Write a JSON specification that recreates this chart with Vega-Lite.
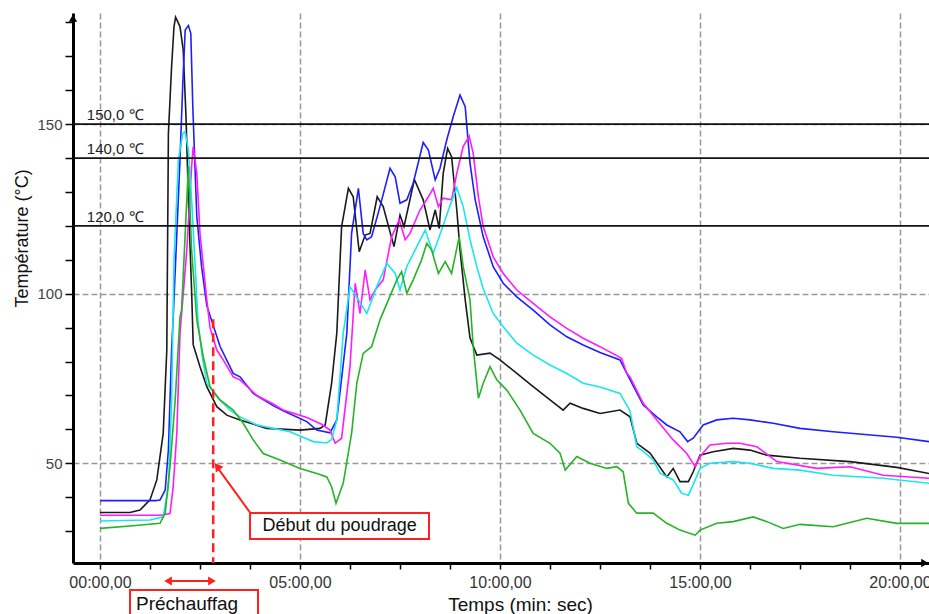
{
  "$schema": "https://vega.github.io/schema/vega-lite/v6.json",
  "width": 856,
  "height": 550,
  "autosize": {"type": "none"},
  "padding": {"left": 73, "top": 13, "right": 0, "bottom": 51},
  "background": "white",
  "config": {"view": {"stroke": null}, "font": "Liberation Sans"},
  "datasets": {
    "curves": [
      {"s":"k","t":0,"v":35.5},{"s":"k","t":0.75,"v":35.5},{"s":"k","t":1.0,"v":36.2},{"s":"k","t":1.25,"v":39.2},{"s":"k","t":1.42,"v":45.1},{"s":"k","t":1.58,"v":58.8},{"s":"k","t":1.67,"v":83.4},{"s":"k","t":1.71,"v":147.3},{"s":"k","t":1.79,"v":167},{"s":"k","t":1.85,"v":178.8},{"s":"k","t":1.89,"v":181.6},{"s":"k","t":2.0,"v":178.8},{"s":"k","t":2.08,"v":171.9},{"s":"k","t":2.15,"v":152.2},{"s":"k","t":2.21,"v":127.7},{"s":"k","t":2.29,"v":101},{"s":"k","t":2.33,"v":85},{"s":"k","t":2.5,"v":78.5},{"s":"k","t":2.67,"v":72.6},{"s":"k","t":2.92,"v":66.7},{"s":"k","t":3.17,"v":64.2},{"s":"k","t":3.5,"v":62.8},{"s":"k","t":4.17,"v":60.3},{"s":"k","t":5.0,"v":59.8},{"s":"k","t":5.5,"v":60.3},{"s":"k","t":5.63,"v":61.3},{"s":"k","t":5.79,"v":73.6},{"s":"k","t":5.92,"v":88.4},{"s":"k","t":6.04,"v":119.8},{"s":"k","t":6.21,"v":131.1},{"s":"k","t":6.33,"v":128.6},{"s":"k","t":6.48,"v":112.4},{"s":"k","t":6.63,"v":117.3},{"s":"k","t":6.75,"v":117.8},{"s":"k","t":6.93,"v":128.6},{"s":"k","t":7.08,"v":125.7},{"s":"k","t":7.35,"v":113.9},{"s":"k","t":7.5,"v":123.2},{"s":"k","t":7.6,"v":119.8},{"s":"k","t":7.86,"v":133.7},{"s":"k","t":8.08,"v":127.7},{"s":"k","t":8.25,"v":118.8},{"s":"k","t":8.38,"v":124.7},{"s":"k","t":8.48,"v":119.3},{"s":"k","t":8.58,"v":135.5},{"s":"k","t":8.69,"v":142.9},{"s":"k","t":8.79,"v":140.4},{"s":"k","t":8.92,"v":124.7},{"s":"k","t":9.0,"v":113},{"s":"k","t":9.13,"v":98.2},{"s":"k","t":9.25,"v":87},{"s":"k","t":9.42,"v":81.9},{"s":"k","t":9.75,"v":82.5},{"s":"k","t":10.0,"v":80.5},{"s":"k","t":10.42,"v":76.5},{"s":"k","t":10.83,"v":72.6},{"s":"k","t":11.25,"v":68.7},{"s":"k","t":11.58,"v":65.7},{"s":"k","t":11.75,"v":67.7},{"s":"k","t":12.08,"v":66.2},{"s":"k","t":12.5,"v":64.7},{"s":"k","t":13.0,"v":65.7},{"s":"k","t":13.25,"v":63.7},{"s":"k","t":13.42,"v":55.9},{"s":"k","t":13.75,"v":53},{"s":"k","t":13.96,"v":49.5},{"s":"k","t":14.17,"v":46},{"s":"k","t":14.33,"v":48.5},{"s":"k","t":14.5,"v":44.6},{"s":"k","t":14.71,"v":44.6},{"s":"k","t":14.83,"v":47.5},{"s":"k","t":15.0,"v":52.4},{"s":"k","t":15.33,"v":53.4},{"s":"k","t":15.83,"v":54.4},{"s":"k","t":16.25,"v":53.9},{"s":"k","t":16.67,"v":52.4},{"s":"k","t":17.5,"v":51.5},{"s":"k","t":18.75,"v":50.5},{"s":"k","t":19.92,"v":48.8},{"s":"k","t":20.73,"v":47},
      {"s":"b","t":0,"v":39.0},{"s":"b","t":1.38,"v":39.0},{"s":"b","t":1.5,"v":39.2},{"s":"b","t":1.63,"v":42.1},{"s":"b","t":1.71,"v":53.9},{"s":"b","t":1.79,"v":83.4},{"s":"b","t":1.83,"v":93},{"s":"b","t":2.0,"v":139.5},{"s":"b","t":2.07,"v":162.1},{"s":"b","t":2.13,"v":177.8},{"s":"b","t":2.21,"v":179.1},{"s":"b","t":2.27,"v":176.8},{"s":"b","t":2.32,"v":155.2},{"s":"b","t":2.42,"v":122.7},{"s":"b","t":2.54,"v":108},{"s":"b","t":2.67,"v":96.5},{"s":"b","t":3.0,"v":84.5},{"s":"b","t":3.33,"v":76.5},{"s":"b","t":3.5,"v":75.5},{"s":"b","t":3.83,"v":70.6},{"s":"b","t":4.33,"v":67},{"s":"b","t":4.58,"v":65.5},{"s":"b","t":5.17,"v":62.3},{"s":"b","t":5.42,"v":59.8},{"s":"b","t":5.75,"v":59},{"s":"b","t":5.92,"v":62.8},{"s":"b","t":6.17,"v":88.3},{"s":"b","t":6.29,"v":117.8},{"s":"b","t":6.46,"v":131.1},{"s":"b","t":6.58,"v":117.8},{"s":"b","t":6.67,"v":115.9},{"s":"b","t":6.79,"v":116.8},{"s":"b","t":7.0,"v":125.7},{"s":"b","t":7.25,"v":137},{"s":"b","t":7.38,"v":134.5},{"s":"b","t":7.5,"v":126.7},{"s":"b","t":7.67,"v":127.7},{"s":"b","t":7.83,"v":132.6},{"s":"b","t":8.08,"v":144.6},{"s":"b","t":8.21,"v":142.4},{"s":"b","t":8.38,"v":133.6},{"s":"b","t":8.5,"v":137},{"s":"b","t":8.67,"v":145.4},{"s":"b","t":8.83,"v":152.2},{"s":"b","t":9.0,"v":158.6},{"s":"b","t":9.13,"v":155.2},{"s":"b","t":9.25,"v":138.5},{"s":"b","t":9.38,"v":127.7},{"s":"b","t":9.58,"v":116.8},{"s":"b","t":9.83,"v":108},{"s":"b","t":10.08,"v":103.1},{"s":"b","t":10.42,"v":99.1},{"s":"b","t":10.83,"v":95.2},{"s":"b","t":11.25,"v":90.8},{"s":"b","t":11.67,"v":87.3},{"s":"b","t":12.08,"v":84.9},{"s":"b","t":12.5,"v":82.7},{"s":"b","t":13.0,"v":80.5},{"s":"b","t":13.17,"v":76.5},{"s":"b","t":13.58,"v":67.2},{"s":"b","t":13.92,"v":63.7},{"s":"b","t":14.17,"v":61.3},{"s":"b","t":14.5,"v":59.3},{"s":"b","t":14.69,"v":56.4},{"s":"b","t":14.83,"v":57.4},{"s":"b","t":15.08,"v":61.3},{"s":"b","t":15.42,"v":62.8},{"s":"b","t":15.83,"v":63.3},{"s":"b","t":16.25,"v":62.8},{"s":"b","t":16.83,"v":61.8},{"s":"b","t":17.5,"v":60.3},{"s":"b","t":18.33,"v":59.3},{"s":"b","t":19.92,"v":57.7},{"s":"b","t":20.73,"v":56.4},
      {"s":"m","t":0,"v":34.7},{"s":"m","t":1.5,"v":34.7},{"s":"m","t":1.75,"v":35.2},{"s":"m","t":1.83,"v":43.1},{"s":"m","t":1.92,"v":58.8},{"s":"m","t":2.0,"v":88.3},{"s":"m","t":2.17,"v":112.9},{"s":"m","t":2.29,"v":137.5},{"s":"m","t":2.33,"v":143.4},{"s":"m","t":2.42,"v":135.5},{"s":"m","t":2.5,"v":117.8},{"s":"m","t":2.67,"v":98.2},{"s":"m","t":2.75,"v":90},{"s":"m","t":2.92,"v":83.4},{"s":"m","t":3.08,"v":80.5},{"s":"m","t":3.33,"v":75.5},{"s":"m","t":3.5,"v":74.6},{"s":"m","t":3.92,"v":70},{"s":"m","t":4.33,"v":67.5},{"s":"m","t":4.58,"v":65.7},{"s":"m","t":5.17,"v":63.5},{"s":"m","t":5.54,"v":61.5},{"s":"m","t":5.75,"v":59.8},{"s":"m","t":5.88,"v":55.9},{"s":"m","t":6.04,"v":57.4},{"s":"m","t":6.25,"v":78.5},{"s":"m","t":6.38,"v":103.1},{"s":"m","t":6.5,"v":94.2},{"s":"m","t":6.63,"v":107},{"s":"m","t":6.75,"v":98.2},{"s":"m","t":6.88,"v":101.1},{"s":"m","t":7.08,"v":104.1},{"s":"m","t":7.29,"v":116.8},{"s":"m","t":7.48,"v":121.8},{"s":"m","t":7.63,"v":115.9},{"s":"m","t":7.75,"v":117.8},{"s":"m","t":8.0,"v":124.7},{"s":"m","t":8.21,"v":128.6},{"s":"m","t":8.33,"v":131.1},{"s":"m","t":8.46,"v":125.7},{"s":"m","t":8.58,"v":128.2},{"s":"m","t":8.79,"v":127.7},{"s":"m","t":8.92,"v":135.5},{"s":"m","t":9.08,"v":143.4},{"s":"m","t":9.23,"v":146.5},{"s":"m","t":9.33,"v":141.4},{"s":"m","t":9.46,"v":128.6},{"s":"m","t":9.58,"v":119.8},{"s":"m","t":9.83,"v":110.9},{"s":"m","t":10.08,"v":106},{"s":"m","t":10.42,"v":101.1},{"s":"m","t":10.83,"v":97.2},{"s":"m","t":11.25,"v":93.2},{"s":"m","t":11.67,"v":89.8},{"s":"m","t":12.08,"v":86.9},{"s":"m","t":12.5,"v":84.4},{"s":"m","t":13.04,"v":81},{"s":"m","t":13.17,"v":76.5},{"s":"m","t":13.25,"v":75.5},{"s":"m","t":13.58,"v":67.7},{"s":"m","t":13.92,"v":62.8},{"s":"m","t":14.33,"v":56.9},{"s":"m","t":14.67,"v":52.9},{"s":"m","t":14.88,"v":49},{"s":"m","t":15.0,"v":52},{"s":"m","t":15.25,"v":55.4},{"s":"m","t":15.67,"v":55.9},{"s":"m","t":16.0,"v":55.9},{"s":"m","t":16.42,"v":54.9},{"s":"m","t":16.92,"v":50.5},{"s":"m","t":17.92,"v":48.5},{"s":"m","t":18.75,"v":49},{"s":"m","t":19.58,"v":46.5},{"s":"m","t":20.73,"v":45.6},
      {"s":"c","t":0,"v":33.0},{"s":"c","t":1.25,"v":33.3},{"s":"c","t":1.58,"v":34.2},{"s":"c","t":1.71,"v":43.1},{"s":"c","t":1.79,"v":68},{"s":"c","t":1.85,"v":110},{"s":"c","t":1.96,"v":139.5},{"s":"c","t":2.07,"v":147.3},{"s":"c","t":2.13,"v":147.8},{"s":"c","t":2.21,"v":142.4},{"s":"c","t":2.29,"v":127.7},{"s":"c","t":2.38,"v":108},{"s":"c","t":2.45,"v":92},{"s":"c","t":2.55,"v":82},{"s":"c","t":2.67,"v":73.6},{"s":"c","t":2.92,"v":69.6},{"s":"c","t":3.25,"v":65.7},{"s":"c","t":3.5,"v":63.7},{"s":"c","t":3.92,"v":61.3},{"s":"c","t":4.33,"v":60.3},{"s":"c","t":4.75,"v":59.3},{"s":"c","t":5.33,"v":56.4},{"s":"c","t":5.67,"v":56},{"s":"c","t":5.79,"v":57},{"s":"c","t":5.92,"v":62.8},{"s":"c","t":6.08,"v":88.3},{"s":"c","t":6.25,"v":102.1},{"s":"c","t":6.46,"v":98.2},{"s":"c","t":6.67,"v":94.2},{"s":"c","t":6.92,"v":102.1},{"s":"c","t":7.17,"v":109},{"s":"c","t":7.38,"v":106},{"s":"c","t":7.5,"v":101.1},{"s":"c","t":7.67,"v":108},{"s":"c","t":7.92,"v":113.9},{"s":"c","t":8.13,"v":118.8},{"s":"c","t":8.33,"v":111.9},{"s":"c","t":8.54,"v":118.8},{"s":"c","t":8.75,"v":126},{"s":"c","t":8.92,"v":131.3},{"s":"c","t":9.08,"v":125.7},{"s":"c","t":9.25,"v":116},{"s":"c","t":9.42,"v":108},{"s":"c","t":9.58,"v":101.5},{"s":"c","t":9.83,"v":94.2},{"s":"c","t":10.08,"v":90.3},{"s":"c","t":10.42,"v":85.4},{"s":"c","t":10.83,"v":81.9},{"s":"c","t":11.25,"v":79},{"s":"c","t":11.67,"v":76.5},{"s":"c","t":12.08,"v":73.6},{"s":"c","t":12.5,"v":72.5},{"s":"c","t":13.0,"v":70.6},{"s":"c","t":13.25,"v":65.5},{"s":"c","t":13.42,"v":54.9},{"s":"c","t":13.58,"v":53.5},{"s":"c","t":13.83,"v":51},{"s":"c","t":14.0,"v":47.1},{"s":"c","t":14.33,"v":45.1},{"s":"c","t":14.54,"v":41.2},{"s":"c","t":14.71,"v":40.6},{"s":"c","t":14.88,"v":45.1},{"s":"c","t":15.0,"v":48.5},{"s":"c","t":15.25,"v":50},{"s":"c","t":15.83,"v":50.5},{"s":"c","t":16.25,"v":50},{"s":"c","t":16.83,"v":48.5},{"s":"c","t":17.5,"v":48},{"s":"c","t":18.33,"v":46.5},{"s":"c","t":19.58,"v":45.6},{"s":"c","t":20.73,"v":44.1},
      {"s":"g","t":0,"v":30.8},{"s":"g","t":0.75,"v":31.5},{"s":"g","t":1.5,"v":32.3},{"s":"g","t":1.63,"v":35.3},{"s":"g","t":1.75,"v":49},{"s":"g","t":1.88,"v":68.7},{"s":"g","t":2.0,"v":93.2},{"s":"g","t":2.04,"v":95.2},{"s":"g","t":2.13,"v":117.8},{"s":"g","t":2.21,"v":137.5},{"s":"g","t":2.29,"v":112.9},{"s":"g","t":2.42,"v":92.3},{"s":"g","t":2.58,"v":81.5},{"s":"g","t":2.75,"v":72.6},{"s":"g","t":3.0,"v":68.7},{"s":"g","t":3.33,"v":65.7},{"s":"g","t":3.58,"v":61.8},{"s":"g","t":3.83,"v":56.9},{"s":"g","t":4.08,"v":52.9},{"s":"g","t":4.5,"v":51},{"s":"g","t":5.0,"v":48.5},{"s":"g","t":5.42,"v":47},{"s":"g","t":5.67,"v":46},{"s":"g","t":5.79,"v":43.1},{"s":"g","t":5.9,"v":38.2},{"s":"g","t":6.08,"v":44.1},{"s":"g","t":6.29,"v":58.8},{"s":"g","t":6.42,"v":73.6},{"s":"g","t":6.58,"v":82.4},{"s":"g","t":6.79,"v":84.4},{"s":"g","t":7.0,"v":92.3},{"s":"g","t":7.21,"v":98.2},{"s":"g","t":7.42,"v":104.1},{"s":"g","t":7.54,"v":106.5},{"s":"g","t":7.67,"v":100.1},{"s":"g","t":7.83,"v":104.1},{"s":"g","t":8.04,"v":110},{"s":"g","t":8.17,"v":114.9},{"s":"g","t":8.29,"v":112.9},{"s":"g","t":8.46,"v":106},{"s":"g","t":8.63,"v":109.5},{"s":"g","t":8.79,"v":106},{"s":"g","t":8.98,"v":116.8},{"s":"g","t":9.08,"v":108},{"s":"g","t":9.25,"v":98.2},{"s":"g","t":9.33,"v":84.4},{"s":"g","t":9.46,"v":69.2},{"s":"g","t":9.58,"v":73.6},{"s":"g","t":9.75,"v":78.5},{"s":"g","t":9.92,"v":74.6},{"s":"g","t":10.17,"v":71.6},{"s":"g","t":10.5,"v":65.7},{"s":"g","t":10.83,"v":58.8},{"s":"g","t":11.25,"v":55.9},{"s":"g","t":11.5,"v":53},{"s":"g","t":11.63,"v":48},{"s":"g","t":11.92,"v":52},{"s":"g","t":12.25,"v":50},{"s":"g","t":12.67,"v":48.5},{"s":"g","t":12.92,"v":49},{"s":"g","t":13.08,"v":47.5},{"s":"g","t":13.21,"v":38.2},{"s":"g","t":13.42,"v":35.3},{"s":"g","t":13.83,"v":35.3},{"s":"g","t":14.17,"v":32.3},{"s":"g","t":14.5,"v":30.3},{"s":"g","t":14.88,"v":28.8},{"s":"g","t":15.0,"v":30.3},{"s":"g","t":15.42,"v":32.3},{"s":"g","t":15.83,"v":32.8},{"s":"g","t":16.33,"v":34.2},{"s":"g","t":16.67,"v":32.8},{"s":"g","t":17.08,"v":30.8},{"s":"g","t":17.5,"v":32},{"s":"g","t":18.33,"v":31.3},{"s":"g","t":19.17,"v":33.8},{"s":"g","t":19.92,"v":32.3},{"s":"g","t":20.73,"v":32.3}
    ],
    "refs": [
      {"v": 150, "label": "150,0 ℃"},
      {"v": 140, "label": "140,0 ℃"},
      {"v": 120, "label": "120,0 ℃"}
    ],
    "one": [{}]
  },
  "layer": [
    {
      "data": {"name": "curves"},
      "mark": {"type": "line", "strokeWidth": 1.6},
      "encoding": {
        "x": {
          "field": "t", "type": "quantitative", "title": "Temps (min: sec)",
          "scale": {"domain": [-0.675, 20.725], "nice": false, "zero": false},
          "axis": {
            "title": "Temps (min: sec)",
            "values": [0, 1.25, 2.5, 3.75, 5, 6.25, 7.5, 8.75, 10, 11.25, 12.5, 13.75, 15, 16.25, 17.5, 18.75, 20],
            "labelExpr": "datum.value % 5 === 0 ? ((datum.value < 10 ? '0' : '') + datum.value + ':00,00') : ''",
            "labelFontSize": 16, "labelColor": "#333", "labelPadding": 5, "labelOverlap": false, "labelFlush": false,
            "grid": true, "gridColor": "#999", "gridDash": [6, 3], "gridWidth": 1.5,
            "gridOpacity": {"condition": {"test": "datum.value % 5 === 0", "value": 1}, "value": 0},
            "domainColor": "#000", "domainWidth": 3,
            "tickColor": "#000", "tickWidth": 1.5, "tickSize": 6,
            "titleFontSize": 19, "titleFontWeight": "normal", "titleColor": "#111",
            "titleX": 447, "titleY": 41, "titleBaseline": "middle", "titleAlign": "center"
          }
        },
        "y": {
          "field": "v", "type": "quantitative", "title": "Température (°C)",
          "scale": {"domain": [20.6, 182.8], "nice": false, "zero": false},
          "axis": {
            "title": "Température (°C)",
            "values": [30, 40, 50, 60, 70, 80, 90, 100, 110, 120, 130, 140, 150, 160, 170, 180],
            "tickCount": 16,
            "labelExpr": "datum.value % 50 === 0 ? datum.label : ''",
            "labelFontSize": 15, "labelColor": "#444", "labelPadding": 3, "labelOverlap": false,
            "grid": true, "gridColor": "#999", "gridDash": [6, 3], "gridWidth": 1.5,
            "gridOpacity": {"condition": {"test": "datum.value % 50 === 0", "value": 1}, "value": 0},
            "domainColor": "#000", "domainWidth": 3,
            "tickColor": "#000", "tickWidth": 1.5, "tickSize": 8,
            "titleFontSize": 18, "titleFontWeight": "normal", "titleColor": "#111",
            "titleX": -51, "titleY": 225, "titleBaseline": "middle", "titleAlign": "center"
          }
        },
        "color": {
          "field": "s", "type": "nominal",
          "scale": {"domain": ["k", "b", "m", "c", "g"], "range": ["#1a1a1a", "#1e1eff", "#ff1aff", "#19e6f0", "#26b326"]},
          "legend": null
        }
      }
    },
    {
      "data": {"name": "refs"},
      "mark": {"type": "rule", "color": "#111", "strokeWidth": 1.8},
      "encoding": {"y": {"field": "v", "type": "quantitative", "title": "Température (°C)"}}
    },
    {
      "data": {"name": "refs"},
      "mark": {"type": "text", "align": "left", "baseline": "alphabetic", "dy": -4, "fontSize": 15, "color": "#222"},
      "encoding": {
        "x": {"datum": -0.33, "type": "quantitative", "title": "Temps (min: sec)"},
        "y": {"field": "v", "type": "quantitative", "title": "Température (°C)"},
        "text": {"field": "label"}
      }
    },
    {
      "data": {"name": "one"},
      "mark": {"type": "rule", "color": "#ff2020", "strokeWidth": 2.5, "strokeDash": [9, 5]},
      "encoding": {
        "x": {"datum": 2.83, "type": "quantitative", "title": "Temps (min: sec)"},
        "y": {"datum": 92.5, "type": "quantitative", "title": "Température (°C)"},
        "y2": {"datum": 20.6}
      }
    },
    {
      "data": {"name": "one"},
      "mark": {"type": "rule", "color": "#ff2020", "strokeWidth": 2},
      "encoding": {
        "x": {"datum": 3.75, "type": "quantitative", "title": "Temps (min: sec)"},
        "y": {"datum": 35.5, "type": "quantitative", "title": "Température (°C)"},
        "x2": {"datum": 2.92},
        "y2": {"datum": 49.0}
      }
    },
    {
      "data": {"name": "one"},
      "mark": {"type": "point", "shape": "triangle-up", "angle": 323, "size": 90, "filled": true, "color": "#ff2020", "opacity": 1},
      "encoding": {
        "x": {"datum": 2.93, "type": "quantitative", "title": "Temps (min: sec)"},
        "y": {"datum": 49.1, "type": "quantitative", "title": "Température (°C)"}
      }
    },
    {
      "data": {"name": "one"},
      "mark": {"type": "rect", "fill": "white", "stroke": "#ff2020", "strokeWidth": 2},
      "encoding": {
        "x": {"datum": 3.75, "type": "quantitative", "title": "Temps (min: sec)"},
        "x2": {"datum": 8.225},
        "y": {"datum": 35.34, "type": "quantitative", "title": "Température (°C)"},
        "y2": {"datum": 27.67}
      }
    },
    {
      "data": {"name": "one"},
      "mark": {"type": "text", "text": "Début du poudrage", "align": "center", "baseline": "middle", "fontSize": 18, "color": "#111"},
      "encoding": {
        "x": {"datum": 5.99, "type": "quantitative", "title": "Temps (min: sec)"},
        "y": {"datum": 31.5, "type": "quantitative", "title": "Température (°C)"}
      }
    },
    {
      "data": {"name": "one"},
      "mark": {"type": "rule", "color": "#ff2020", "strokeWidth": 2},
      "encoding": {
        "x": {"datum": 1.65, "type": "quantitative", "title": "Temps (min: sec)"},
        "x2": {"datum": 2.85},
        "y": {"datum": 15.3, "type": "quantitative", "title": "Température (°C)"}
      }
    },
    {
      "data": {"name": "one"},
      "mark": {"type": "point", "shape": "triangle-left", "size": 80, "filled": true, "color": "#ff2020", "opacity": 1},
      "encoding": {
        "x": {"datum": 1.7, "type": "quantitative", "title": "Temps (min: sec)"},
        "y": {"datum": 15.3, "type": "quantitative", "title": "Température (°C)"}
      }
    },
    {
      "data": {"name": "one"},
      "mark": {"type": "point", "shape": "triangle-right", "size": 80, "filled": true, "color": "#ff2020", "opacity": 1},
      "encoding": {
        "x": {"datum": 2.8, "type": "quantitative", "title": "Temps (min: sec)"},
        "y": {"datum": 15.3, "type": "quantitative", "title": "Température (°C)"}
      }
    },
    {
      "data": {"name": "one"},
      "mark": {"type": "rect", "fill": "white", "stroke": "#ff2020", "strokeWidth": 2},
      "encoding": {
        "x": {"datum": 0.75, "type": "quantitative", "title": "Temps (min: sec)"},
        "x2": {"datum": 3.95},
        "y": {"datum": 12.63, "type": "quantitative", "title": "Température (°C)"},
        "y2": {"datum": 3.0}
      }
    },
    {
      "data": {"name": "one"},
      "mark": {"type": "text", "text": "Préchauffag", "align": "left", "baseline": "middle", "fontSize": 19, "color": "#111"},
      "encoding": {
        "x": {"datum": 0.9, "type": "quantitative", "title": "Temps (min: sec)"},
        "y": {"datum": 8.6, "type": "quantitative", "title": "Température (°C)"}
      }
    },
    {
      "data": {"name": "one"},
      "mark": {"type": "point", "shape": "triangle-up", "size": 70, "filled": true, "color": "#000", "opacity": 1},
      "encoding": {
        "x": {"datum": -0.675, "type": "quantitative", "title": "Temps (min: sec)"},
        "y": {"datum": 181.3, "type": "quantitative", "title": "Température (°C)"}
      }
    },
    {
      "data": {"name": "one"},
      "mark": {"type": "point", "shape": "triangle-right", "size": 70, "filled": true, "color": "#000", "opacity": 1},
      "encoding": {
        "x": {"datum": 20.62, "type": "quantitative", "title": "Temps (min: sec)"},
        "y": {"datum": 20.6, "type": "quantitative", "title": "Température (°C)"}
      }
    }
  ]
}
